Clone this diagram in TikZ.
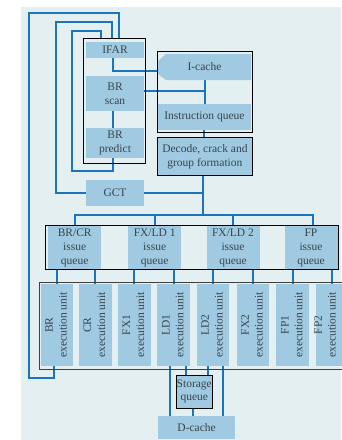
\documentclass[tikz,border=0pt]{standalone}
\usepackage{fontspec}
\usepackage{graphicx}
\setmainfont{Liberation Serif}
\usetikzlibrary{calc}
\pgfdeclarelayer{panel}
\pgfdeclarelayer{wires}
\pgfsetlayers{panel,wires,main}
\definecolor{panelc}{HTML}{E4EFF1}
\definecolor{boxc}{HTML}{9FCAE1}
\definecolor{wirec}{HTML}{1B75BC}
\definecolor{txtc}{HTML}{3A444C}
% two-line label turned to read bottom to top
\newcommand\vlabel[2]{\rotatebox{90}{\begin{tabular}{@{}c@{}}#1\\#2\end{tabular}}}
\begin{document}
\begin{tikzpicture}[x=1pt,y=-1pt,
  unit/.style={fill=boxc, inner sep=0pt, outer sep=0pt, text=txtc, align=center,
    font=\fontsize{11.5}{13.8}\selectfont},
  label only/.style={inner sep=0pt, outer sep=0pt, text=txtc, align=center,
    font=\fontsize{11.5}{13.8}\selectfont},
  group/.style={draw=black, line width=0.9pt, inner sep=0pt, outer sep=0pt},
  wire/.style={draw=wirec, line width=2pt},
  queue/.style={unit, minimum width=53, minimum height=44.5},
  exec/.style={unit, minimum width=32.7, minimum height=82},
  ]
\useasboundingbox (0,0) rectangle (341,440);

% ---- fetch side ----
\node[unit, minimum width=58.6, minimum height=15.7] (ifar) at (115,49.9) {IFAR};
\node[unit, minimum width=58.6, minimum height=35] (brscan) at (115,93.5) {BR\\scan};
\node[unit, minimum width=58.6, minimum height=30] (brpred) at (115,142.7) {BR\\predict};
\node[group, minimum width=62.4, minimum height=125] (fetch) at (114.5,101.2) {};
\node[unit, minimum width=58, minimum height=25.5] (gct) at (115,193.2) {GCT};

% ---- cache and decode ----
\node[label only, minimum width=93, minimum height=26] (icache) at (204.5,67) {I-cache};
\node[unit, minimum width=93.3, minimum height=26] (iqueue) at (204.4,117) {Instruction queue};
\node[group, minimum width=94.3, minimum height=80.6] (cachegrp) at (204.9,92) {};
\node[unit, draw=black, line width=0.9pt, minimum width=94.3, minimum height=38] (decode)
  at (204.9,156.7) {Decode, crack and\\group formation};

% ---- issue queues ----
\node[queue] (qbr)  at (74.7,247.7)  {BR/CR\\issue\\queue};
\node[queue] (qfx1) at (154.7,247.7) {FX/LD 1\\issue\\queue};
\node[queue] (qfx2) at (233,247.7)   {FX/LD 2\\issue\\queue};
\node[queue] (qfp)  at (311,247.7)   {FP\\issue\\queue};
\node[group, minimum width=292.6, minimum height=44.3] (issuegrp) at (192,247.15) {};

% ---- execution units ----
\node[exec] (ebr)  at (57.05,325)  {\vlabel{BR}{execution unit}};
\node[exec] (ecr)  at (95.35,325)  {\vlabel{CR}{execution unit}};
\node[exec] (efx1) at (134.35,325) {\vlabel{FX1}{execution unit}};
\node[exec] (eld1) at (173.65,325) {\vlabel{LD1}{execution unit}};
\node[exec] (eld2) at (213.05,325) {\vlabel{LD2}{execution unit}};
\node[exec] (efx2) at (253.05,325) {\vlabel{FX2}{execution unit}};
\node[exec] (efp1) at (292.65,325) {\vlabel{FP1}{execution unit}};
\node[exec] (efp2) at (332.05,325) {\hspace*{-12pt}\vlabel{FP2}{execution unit}};
\node[group, draw=black!75, line width=1pt, minimum width=310.3, minimum height=86.7]
  (execgrp) at (194.85,325.65) {};

% ---- load/store ----
\node[unit, draw=black, line width=0.9pt, minimum width=35.5, minimum height=33]
  (storage) at (194.25,391.5) {Storage\\queue};
\node[unit, minimum width=76.7, minimum height=23.5] (dcache) at (196.65,427.5) {D-cache};

\coordinate (busy) at (0,214.7);
\coordinate (dtap) at ([xshift=-1.5]decode.south);

\begin{pgfonlayer}{panel}
  \fill[white] (0,0) rectangle (341,440);
  \fill[panelc] (21,7) rectangle (341,440);
\end{pgfonlayer}

\begin{pgfonlayer}{wires}
  % fetch loops back into the IFAR block
  \draw[wire] ([xshift=-3]ebr.south) -- ++(0,12) -| (28.5,12.5) -| ([xshift=4.5]fetch.north);
  \draw[wire] (gct.west) -| (55.7,22.3) -| ([xshift=-2.8]fetch.north);
  \draw[wire] ([xshift=-2.5]brpred.south) -- ++(0,13.3) -| (72.3,31) -| ([xshift=-13.5]fetch.north);
  \draw[wire] ([xshift=-2.5]brscan.south) -- ([xshift=-2.5]brpred.north);
  % fetch to cache
  \draw[wire] ([xshift=-2.5]ifar.south) |- ([yshift=-3.5]icache.west);
  \draw[wire] ([yshift=2.8]brscan.east) -- ([yshift=2.8]brscan.east -| icache.south);
  \draw[wire] (icache.south) -- (icache.south |- iqueue.north);
  \draw[wire] (iqueue.south) -- (iqueue.south |- decode.north);
  % decode to dispatch bus
  \draw[wire] (dtap) -- (dtap |- busy);
  \draw[wire] (gct.east) -- (dtap |- gct.east);
  \draw[wire] (qbr.north) |- ([xshift=2]qfp.north |- busy) -- ([xshift=2]qfp.north);
  \draw[wire] (qfx1.north) -- (qfx1.north |- busy);
  \draw[wire] (qfx2.north) -- (qfx2.north |- busy);
  % issue queues to execution units
  \foreach \q/\e in {qbr/ebr, qbr/ecr, qfx1/efx1, qfx1/eld1, qfx2/eld2, qfx2/efx2, qfp/efp1, qfp/efp2}
    \draw[wire] (\e.north |- \q.south) -- (\e.north);
  % load/store paths
  \draw[wire] ([xshift=-3.7]eld1.south) -- ([xshift=-3.7]eld1.south |- dcache.north);
  \draw[wire] ([xshift=12.3]eld1.south) -- ([xshift=12.3]eld1.south |- storage.north);
  \draw[wire] ([xshift=-4.7]eld2.south) -- ([xshift=-4.7]eld2.south |- storage.north);
  \draw[wire] ([xshift=10.3]eld2.south) -- ([xshift=10.3]eld2.south |- dcache.north);
  \draw[wire] ([xshift=-1.5]storage.south) -- ([xshift=-1.5]storage.south |- dcache.north);
  % I-cache body with its pointed entry side
  \fill[boxc] ([xshift=8]icache.north west) -- ([yshift=-7]icache.north west)
    -- ([yshift=6]icache.south west) -- ([xshift=8]icache.south west)
    -- (icache.south east) -- (icache.north east) -- cycle;
\end{pgfonlayer}
\end{tikzpicture}
\end{document}
